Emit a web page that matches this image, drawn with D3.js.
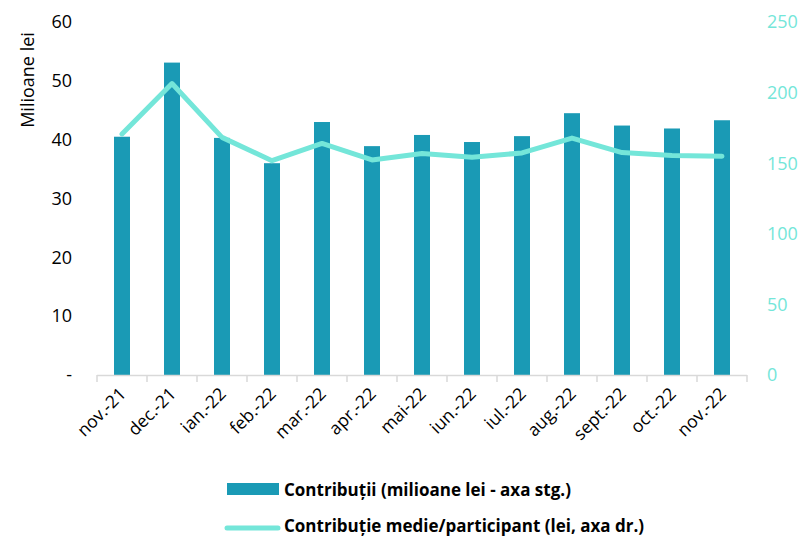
<!DOCTYPE html>
<html>
<head>
<meta charset="utf-8">
<script src="https://cdn.jsdelivr.net/npm/d3@7"></script>
<style>
  body { margin: 0; background: #fff; }
  svg { display: block; font-family: "Open Sans", "Noto Sans", sans-serif; }
</style>
</head>
<body>
<svg id="chart" width="802" height="538"></svg>
<script>
// Monthly contributions (million lei) and average contribution per participant (lei)
const months = ["nov.-21", "dec.-21", "ian.-22", "feb.-22", "mar.-22", "apr.-22", "mai-22",
                "iun.-22", "iul.-22", "aug.-22", "sept.-22", "oct.-22", "nov.-22"];
const contributions = [40.5, 53.1, 40.3, 36.0, 43.0, 38.9, 40.8, 39.6, 40.6, 44.5, 42.4, 41.9, 43.3];
const avgPerParticipant = [170.7, 206.4, 168.3, 151.8, 164.0, 152.3, 156.8, 154.2, 157.3, 167.8, 157.5, 155.4, 154.9];
const leftTicks = [0, 10, 20, 30, 40, 50, 60];
const rightTicks = [0, 50, 100, 150, 200, 250];
const legendLabels = ["Contribuții (milioane lei - axa stg.)", "Contribuție medie/participant (lei, axa dr.)"];

const barColor = "#1a9ab5";
const lineColor = "#74e6d9";

const svg = d3.select("#chart");
const m = { top: 22, left: 97, right: 747, bottom: 375 };

const x = d3.scaleBand().domain(months).range([m.left, m.right]);
const yL = d3.scaleLinear().domain([0, 60]).range([m.bottom, m.top]);
const yR = d3.scaleLinear().domain([0, 250]).range([m.bottom, m.top]);

// Left axis labels
svg.append("g").selectAll("text").data(leftTicks).join("text")
  .attr("x", 72).attr("y", d => yL(d))
  .attr("dy", "0.35em").attr("text-anchor", "end")
  .attr("font-size", 18).attr("fill", "#000")
  .text(d => d === 0 ? "-" : d);

// Right axis labels
svg.append("g").selectAll("text").data(rightTicks).join("text")
  .attr("x", 767).attr("y", d => yR(d))
  .attr("dy", "0.35em").attr("text-anchor", "start")
  .attr("font-size", 18).attr("fill", lineColor)
  .text(d => d);

// Left axis title
svg.append("text")
  .attr("transform", "translate(34,80) rotate(-90)")
  .attr("text-anchor", "middle").attr("font-size", 18).attr("fill", "#000")
  .text("Milioane lei");

// Bars
const barW = 16;
svg.append("g").selectAll("rect").data(months).join("rect")
  .attr("x", d => x(d) + x.bandwidth() / 2 - barW / 2)
  .attr("width", barW)
  .attr("y", (d, i) => yL(contributions[i]))
  .attr("height", (d, i) => yL(0) - yL(contributions[i]))
  .attr("fill", barColor);

// Category axis
const xAxis = svg.append("g");
xAxis.append("line")
  .attr("x1", m.left).attr("x2", m.right)
  .attr("y1", m.bottom + 0.5).attr("y2", m.bottom + 0.5)
  .attr("stroke", "#d9d9d9").attr("stroke-width", 1.5);
xAxis.selectAll("line.tick").data(months.concat([null])).join("line")
  .attr("class", "tick")
  .attr("x1", (d, i) => m.left + i * x.step())
  .attr("x2", (d, i) => m.left + i * x.step())
  .attr("y1", m.bottom).attr("y2", m.bottom + 7)
  .attr("stroke", "#d9d9d9").attr("stroke-width", 1.5);
xAxis.selectAll("text").data(months).join("text")
  .attr("transform", d => `translate(${x(d) + x.bandwidth() / 2 + 5},${m.bottom + 20}) rotate(-45)`)
  .attr("text-anchor", "end").attr("font-size", 17.5).attr("fill", "#000")
  .text(d => d);

// Average contribution line
const line = d3.line()
  .x((d, i) => x(months[i]) + x.bandwidth() / 2)
  .y(d => yR(d));
svg.append("path").datum(avgPerParticipant)
  .attr("d", line)
  .attr("fill", "none").attr("stroke", lineColor)
  .attr("stroke-width", 5).attr("stroke-linejoin", "round").attr("stroke-linecap", "round");

// Legend
const lg = svg.append("g");
lg.append("rect").attr("x", 227).attr("y", 483).attr("width", 52).attr("height", 12).attr("fill", barColor);
lg.append("text").attr("x", 284).attr("y", 496)
  .attr("font-size", 17).attr("font-weight", "bold").attr("fill", "#000").text(legendLabels[0]);
lg.append("line").attr("x1", 227).attr("x2", 278).attr("y1", 528).attr("y2", 528)
  .attr("stroke", lineColor).attr("stroke-width", 5).attr("stroke-linecap", "round");
lg.append("text").attr("x", 284).attr("y", 532)
  .attr("font-size", 17).attr("font-weight", "bold").attr("fill", "#000").text(legendLabels[1]);
</script>
</body>
</html>
